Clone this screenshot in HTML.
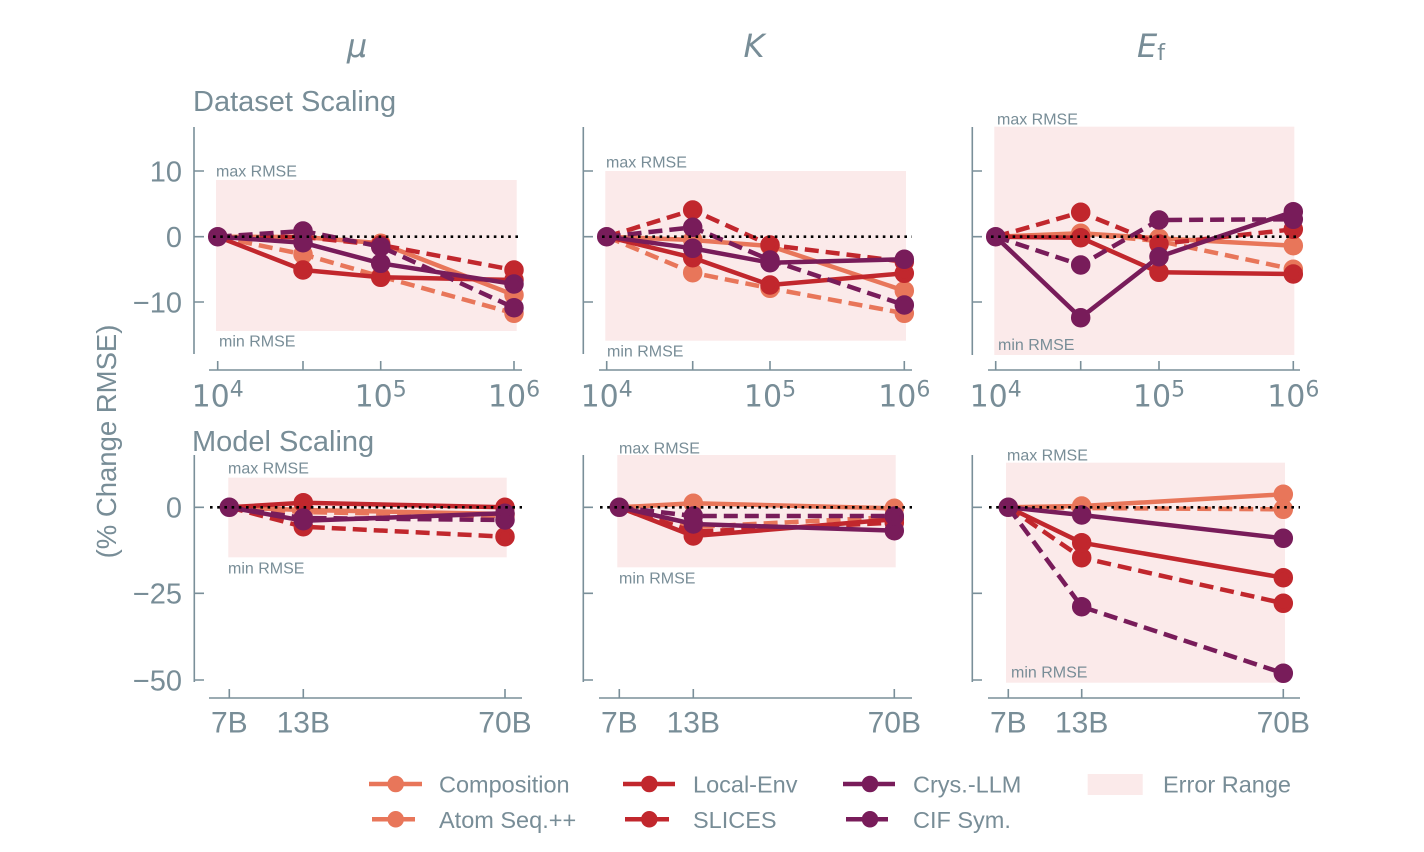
<!DOCTYPE html>
<html><head><meta charset="utf-8"><style>
html,body{margin:0;padding:0;background:#fff;}
svg{display:block;}
text{font-family:"Liberation Sans",Arial,sans-serif;fill:#788d97;}
.dv{font-family:"DejaVu Sans","Liberation Sans",sans-serif;}
</style></head><body>
<svg width="1424" height="852" viewBox="0 0 1424 852" xmlns="http://www.w3.org/2000/svg">
<!-- column titles -->
<text x="357" y="57" font-size="32" font-style="italic" text-anchor="middle" class="dv">μ</text>
<text x="754" y="57" font-size="32" font-style="italic" text-anchor="middle" class="dv">K</text>
<text x="1137" y="57" font-size="32" font-style="italic" class="dv">E<tspan font-size="22" font-style="normal" dy="3">f</tspan></text>

<text x="193" y="111" font-size="29">Dataset Scaling</text>
<text x="192" y="451" font-size="29">Model Scaling</text>
<text transform="translate(116,441.5) rotate(-90)" font-size="27.5" text-anchor="middle">(% Change RMSE)</text>

<!-- error rects -->
<g fill="#fbeaea">
<rect x="216" y="180" width="300.7" height="151"/>
<rect x="605.3" y="171" width="300.7" height="169.7"/>
<rect x="994.3" y="126.7" width="300" height="228.3"/>
<rect x="228.3" y="477.7" width="278.4" height="79.6"/>
<rect x="617.3" y="455" width="278.4" height="112.3"/>
<rect x="1006" y="462.7" width="279" height="220"/>
</g>
<g font-size="16">
<text x="216" y="176.7">max RMSE</text><text x="219" y="346.7">min RMSE</text>
<text x="606" y="167.3">max RMSE</text><text x="607" y="356.7">min RMSE</text>
<text x="997" y="124.3">max RMSE</text><text x="998" y="350">min RMSE</text>
<text x="228" y="473.3">max RMSE</text><text x="228" y="573.3">min RMSE</text>
<text x="619" y="453.3">max RMSE</text><text x="619" y="583.3">min RMSE</text>
<text x="1007" y="460.7">max RMSE</text><text x="1011" y="677.7">min RMSE</text>
</g>

<!-- spines and ticks -->
<g stroke="#7a8f99" stroke-width="1.6" fill="none">
<path d="M194,127V354 M194,171H204 M194,236.7H204 M194,302H204"/>
<path d="M583.3,127V354 M583.3,171H593 M583.3,236.7H593 M583.3,302H593"/>
<path d="M972.3,127V355 M972.3,171H982 M972.3,236.7H982 M972.3,302H982"/>
<path d="M209,370H522 M217.7,370V361 M303,370V361 M380.7,370V361 M514,370V361"/>
<path d="M599,370H912 M606.7,370V361 M692.7,370V361 M770,370V361 M904.3,370V361"/>
<path d="M988,370H1300 M995.7,370V361 M1080.7,370V361 M1159,370V361 M1293.3,370V361"/>
<path d="M194.3,455V682 M194.3,507.3H204 M194.3,593.3H204 M194.3,680H204"/>
<path d="M583.3,455V682 M583.3,507.3H593 M583.3,593.3H593 M583.3,680H593"/>
<path d="M972.3,455V682 M972.3,507.3H982 M972.3,593.3H982 M972.3,680H982"/>
<path d="M209,698H522 M229.3,698V689 M303.3,698V689 M505,698V689"/>
<path d="M599,698H912 M619.3,698V689 M693.3,698V689 M894.3,698V689"/>
<path d="M988,698H1300 M1008.3,698V689 M1081.7,698V689 M1283.3,698V689"/>
</g>

<!-- y tick labels -->
<g font-size="29" text-anchor="end">
<text x="182" y="181.5">10</text>
<text x="182" y="247">0</text>
<text x="182" y="312.5">−10</text>
<text x="182" y="517.7">0</text>
<text x="182" y="603.7">−25</text>
<text x="182" y="690.5">−50</text>
</g>
<!-- x tick labels -->
<g font-size="30" text-anchor="middle" class="dv">
<text x="217.7" y="406.7" class="dv">10<tspan font-size="22" dy="-10">4</tspan></text>
<text x="380.7" y="406.7" class="dv">10<tspan font-size="22" dy="-10">5</tspan></text>
<text x="514" y="406.7" class="dv">10<tspan font-size="22" dy="-10">6</tspan></text>
<text x="606.7" y="406.7" class="dv">10<tspan font-size="22" dy="-10">4</tspan></text>
<text x="770" y="406.7" class="dv">10<tspan font-size="22" dy="-10">5</tspan></text>
<text x="904.3" y="406.7" class="dv">10<tspan font-size="22" dy="-10">6</tspan></text>
<text x="995.7" y="406.7" class="dv">10<tspan font-size="22" dy="-10">4</tspan></text>
<text x="1159" y="406.7" class="dv">10<tspan font-size="22" dy="-10">5</tspan></text>
<text x="1293.3" y="406.7" class="dv">10<tspan font-size="22" dy="-10">6</tspan></text>
</g>
<g font-size="30" text-anchor="middle">
<text x="229.3" y="732.7">7B</text><text x="303.3" y="732.7">13B</text><text x="505" y="732.7">70B</text>
<text x="619.3" y="732.7">7B</text><text x="693.3" y="732.7">13B</text><text x="894.3" y="732.7">70B</text>
<text x="1008.3" y="732.7">7B</text><text x="1081.7" y="732.7">13B</text><text x="1283.3" y="732.7">70B</text>
</g>

<!-- series -->
<g stroke-width="4.5" fill="none" stroke-linejoin="round">
<!-- TL -->
<g stroke="#E8765A" fill="#E8765A"><path fill="none" d="M217.7,236.7L303,237L380.7,243.3L514,295"/><circle cx="303" cy="237" r="7.5"/><circle cx="380.7" cy="243.3" r="7.5"/><circle cx="514" cy="295" r="7.5"/></g>
<g stroke="#E8765A" fill="#E8765A"><path fill="none" stroke-dasharray="14 7" d="M217.7,236.7L303,254.3L380.7,276.5L514,313.3"/><circle cx="303" cy="254.3" r="7.5"/><circle cx="380.7" cy="276.5" r="7.5"/><circle cx="514" cy="313.3" r="7.5"/></g>
<g stroke="#C1272D" fill="#C1272D"><path fill="none" d="M217.7,236.7L303,270L380.7,277.3L514,280"/><circle cx="303" cy="270" r="7.5"/><circle cx="380.7" cy="277.3" r="7.5"/><circle cx="514" cy="280" r="7.5"/></g>
<g stroke="#C1272D" fill="#C1272D"><path fill="none" stroke-dasharray="14 7" d="M217.7,236.7L303,237L380.7,245L514,270"/><circle cx="303" cy="237" r="7.5"/><circle cx="380.7" cy="245" r="7.5"/><circle cx="514" cy="270" r="7.5"/></g>
<g stroke="#781C5A" fill="#781C5A"><path fill="none" d="M217.7,236.7L303,242.7L380.7,263.3L514,284"/><circle cx="303" cy="242.7" r="7.5"/><circle cx="380.7" cy="263.3" r="7.5"/><circle cx="514" cy="284" r="7.5"/></g>
<g stroke="#781C5A" fill="#781C5A"><path fill="none" stroke-dasharray="14 7" d="M217.7,236.7L303,231L380.7,246.7L514,307.7"/><circle cx="303" cy="231" r="7.5"/><circle cx="380.7" cy="246.7" r="7.5"/><circle cx="514" cy="307.7" r="7.5"/><circle cx="217.7" cy="236.7" r="7.5"/></g>
<!-- TM -->
<g stroke="#E8765A" fill="#E8765A"><path fill="none" d="M606.7,236.7L692.7,240L770,246L904.3,290.7"/><circle cx="692.7" cy="240" r="7.5"/><circle cx="770" cy="246" r="7.5"/><circle cx="904.3" cy="290.7" r="7.5"/></g>
<g stroke="#E8765A" fill="#E8765A"><path fill="none" stroke-dasharray="14 7" d="M606.7,236.7L692.7,272.7L770,288.3L904.3,313.3"/><circle cx="692.7" cy="272.7" r="7.5"/><circle cx="770" cy="288.3" r="7.5"/><circle cx="904.3" cy="313.3" r="7.5"/></g>
<g stroke="#C1272D" fill="#C1272D"><path fill="none" d="M606.7,236.7L692.7,257.7L770,285L904.3,273.3"/><circle cx="692.7" cy="257.7" r="7.5"/><circle cx="770" cy="285" r="7.5"/><circle cx="904.3" cy="273.3" r="7.5"/></g>
<g stroke="#C1272D" fill="#C1272D"><path fill="none" stroke-dasharray="14 7" d="M606.7,236.7L692.7,210L770,245L904.3,261.7"/><circle cx="692.7" cy="210" r="7.5"/><circle cx="770" cy="245" r="7.5"/><circle cx="904.3" cy="261.7" r="7.5"/></g>
<g stroke="#781C5A" fill="#781C5A"><path fill="none" stroke-dasharray="14 7" d="M606.7,236.7L692.7,227.3L770,260L904.3,305"/><circle cx="692.7" cy="227.3" r="7.5"/><circle cx="770" cy="260" r="7.5"/><circle cx="904.3" cy="305" r="7.5"/></g>
<g stroke="#781C5A" fill="#781C5A"><path fill="none" d="M606.7,236.7L692.7,248.3L770,262.7L904.3,259.3"/><circle cx="692.7" cy="248.3" r="7.5"/><circle cx="770" cy="262.7" r="7.5"/><circle cx="904.3" cy="259.3" r="7.5"/><circle cx="606.7" cy="236.7" r="7.5"/></g>
<!-- TR -->
<g stroke="#E8765A" fill="#E8765A"><path fill="none" d="M995.7,236.7L1080.7,233.3L1159,238.3L1293.3,245.7"/><circle cx="1080.7" cy="233.3" r="7.5"/><circle cx="1159" cy="238.3" r="7.5"/><circle cx="1293.3" cy="245.7" r="7.5"/></g>
<g stroke="#E8765A" fill="#E8765A"><path fill="none" stroke-dasharray="14 7" d="M995.7,236.7L1080.7,234L1159,241L1293.3,269.3"/><circle cx="1080.7" cy="234" r="7.5"/><circle cx="1159" cy="241" r="7.5"/><circle cx="1293.3" cy="269.3" r="7.5"/></g>
<g stroke="#C1272D" fill="#C1272D"><path fill="none" d="M995.7,236.7L1080.7,237.7L1159,272.3L1293.3,274"/><circle cx="1080.7" cy="237.7" r="7.5"/><circle cx="1159" cy="272.3" r="7.5"/><circle cx="1293.3" cy="274" r="7.5"/></g>
<g stroke="#C1272D" fill="#C1272D"><path fill="none" stroke-dasharray="14 7" d="M995.7,236.7L1080.7,212.3L1159,244L1293.3,229.3"/><circle cx="1080.7" cy="212.3" r="7.5"/><circle cx="1159" cy="244" r="7.5"/><circle cx="1293.3" cy="229.3" r="7.5"/></g>
<g stroke="#781C5A" fill="#781C5A"><path fill="none" d="M995.7,236.7L1080.7,317.7L1159,256.7L1293.3,211.7"/><circle cx="1080.7" cy="317.7" r="7.5"/><circle cx="1159" cy="256.7" r="7.5"/><circle cx="1293.3" cy="211.7" r="7.5"/></g>
<g stroke="#781C5A" fill="#781C5A"><path fill="none" stroke-dasharray="14 7" d="M995.7,236.7L1080.7,265L1159,220L1293.3,219.3"/><circle cx="1080.7" cy="265" r="7.5"/><circle cx="1159" cy="220" r="7.5"/><circle cx="1293.3" cy="219.3" r="7.5"/><circle cx="995.7" cy="236.7" r="7.5"/></g>
<!-- BL -->
<g stroke="#E8765A" fill="#E8765A"><path fill="none" d="M229.3,507.3L303.3,510L505,514"/><circle cx="303.3" cy="510" r="7.5"/><circle cx="505" cy="514" r="7.5"/></g>
<g stroke="#E8765A" fill="#E8765A"><path fill="none" stroke-dasharray="14 7" d="M229.3,507.3L303.3,512L505,516"/><circle cx="303.3" cy="512" r="7.5"/><circle cx="505" cy="516" r="7.5"/></g>
<g stroke="#C1272D" fill="#C1272D"><path fill="none" d="M229.3,507.3L303.3,502.7L505,507.3"/><circle cx="303.3" cy="502.7" r="7.5"/><circle cx="505" cy="507.3" r="7.5"/></g>
<g stroke="#C1272D" fill="#C1272D"><path fill="none" stroke-dasharray="14 7" d="M229.3,507.3L303.3,526.7L505,536.7"/><circle cx="303.3" cy="526.7" r="7.5"/><circle cx="505" cy="536.7" r="7.5"/></g>
<g stroke="#781C5A" fill="#781C5A"><path fill="none" stroke-dasharray="14 7" d="M229.3,507.3L303.3,518L505,520"/><circle cx="303.3" cy="518" r="7.5"/><circle cx="505" cy="520" r="7.5"/></g>
<g stroke="#781C5A" fill="#781C5A"><path fill="none" d="M229.3,507.3L303.3,520.7L505,513.3"/><circle cx="303.3" cy="520.7" r="7.5"/><circle cx="505" cy="513.3" r="7.5"/><circle cx="229.3" cy="507.3" r="7.5"/></g>
<!-- BM -->
<g stroke="#E8765A" fill="#E8765A"><path fill="none" d="M619.3,507.3L693.3,503.3L894.3,508.3"/><circle cx="693.3" cy="503.3" r="7.5"/><circle cx="894.3" cy="508.3" r="7.5"/></g>
<g stroke="#E8765A" fill="#E8765A"><path fill="none" stroke-dasharray="14 7" d="M619.3,507.3L693.3,527L894.3,517"/><circle cx="693.3" cy="527" r="7.5"/><circle cx="894.3" cy="517" r="7.5"/></g>
<g stroke="#C1272D" fill="#C1272D"><path fill="none" d="M619.3,507.3L693.3,536L894.3,519.3"/><circle cx="693.3" cy="536" r="7.5"/><circle cx="894.3" cy="519.3" r="7.5"/></g>
<g stroke="#C1272D" fill="#C1272D"><path fill="none" stroke-dasharray="14 7" d="M619.3,507.3L693.3,531.7L894.3,522.7"/><circle cx="693.3" cy="531.7" r="7.5"/><circle cx="894.3" cy="522.7" r="7.5"/></g>
<g stroke="#781C5A" fill="#781C5A"><path fill="none" d="M619.3,507.3L693.3,524L894.3,530.7"/><circle cx="693.3" cy="524" r="7.5"/><circle cx="894.3" cy="530.7" r="7.5"/></g>
<g stroke="#781C5A" fill="#781C5A"><path fill="none" stroke-dasharray="14 7" d="M619.3,507.3L693.3,516L894.3,516"/><circle cx="693.3" cy="516" r="7.5"/><circle cx="894.3" cy="516" r="7.5"/><circle cx="619.3" cy="507.3" r="7.5"/></g>
<!-- BR -->
<g stroke="#E8765A" fill="#E8765A"><path fill="none" d="M1008.3,507.3L1081.7,506L1283.3,494.3"/><circle cx="1081.7" cy="506" r="7.5"/><circle cx="1283.3" cy="494.3" r="7.5"/></g>
<g stroke="#E8765A" fill="#E8765A"><path fill="none" stroke-dasharray="14 7" d="M1008.3,507.3L1081.7,508L1283.3,509.3"/><circle cx="1081.7" cy="508" r="7.5"/><circle cx="1283.3" cy="509.3" r="7.5"/></g>
<g stroke="#C1272D" fill="#C1272D"><path fill="none" d="M1008.3,507.3L1081.7,542.7L1283.3,577.7"/><circle cx="1081.7" cy="542.7" r="7.5"/><circle cx="1283.3" cy="577.7" r="7.5"/></g>
<g stroke="#C1272D" fill="#C1272D"><path fill="none" stroke-dasharray="14 7" d="M1008.3,507.3L1081.7,557.7L1283.3,603.3"/><circle cx="1081.7" cy="557.7" r="7.5"/><circle cx="1283.3" cy="603.3" r="7.5"/></g>
<g stroke="#781C5A" fill="#781C5A"><path fill="none" d="M1008.3,507.3L1081.7,515L1283.3,538.3"/><circle cx="1081.7" cy="515" r="7.5"/><circle cx="1283.3" cy="538.3" r="7.5"/></g>
<g stroke="#781C5A" fill="#781C5A"><path fill="none" stroke-dasharray="14 7" d="M1008.3,507.3L1081.7,606.7L1283.3,673.3"/><circle cx="1081.7" cy="606.7" r="7.5"/><circle cx="1283.3" cy="673.3" r="7.5"/><circle cx="1008.3" cy="507.3" r="7.5"/></g>
</g>

<!-- zero dotted lines -->
<g stroke="#000" stroke-width="2.6" stroke-dasharray="2.6 4.6" fill="none">
<path d="M213,236.7H522 M602,236.7H912 M991,236.7H1300"/>
<path d="M210,507.3H522 M600,507.3H912 M989,507.3H1300"/>
</g>

<!-- legend -->
<g stroke-width="4.5" fill="none">
<g stroke="#E8765A" fill="#E8765A"><path fill="none" d="M369,784H422"/><circle cx="395.7" cy="784" r="6"/></g>
<g stroke="#E8765A" fill="#E8765A"><path fill="none" d="M372,819.3H415"/><circle cx="395.7" cy="819.3" r="6"/></g>
<g stroke="#C1272D" fill="#C1272D"><path fill="none" d="M623,784H675"/><circle cx="649.3" cy="784" r="6"/></g>
<g stroke="#C1272D" fill="#C1272D"><path fill="none" d="M625,819.3H669"/><circle cx="649.3" cy="819.3" r="6"/></g>
<g stroke="#781C5A" fill="#781C5A"><path fill="none" d="M843,784H895"/><circle cx="870" cy="784" r="6"/></g>
<g stroke="#781C5A" fill="#781C5A"><path fill="none" d="M846,819.3H888"/><circle cx="870" cy="819.3" r="6"/></g>
</g>
<rect x="1087.7" y="774" width="55" height="21" fill="#fbeaea"/>
<g font-size="23.5">
<text x="439" y="792.5">Composition</text>
<text x="439" y="827.8">Atom Seq.++</text>
<text x="693" y="792.5">Local-Env</text>
<text x="693" y="827.8">SLICES</text>
<text x="913" y="792.5">Crys.-LLM</text>
<text x="913" y="827.8">CIF Sym.</text>
<text x="1163" y="792.5">Error Range</text>
</g>
</svg>
</body></html>
